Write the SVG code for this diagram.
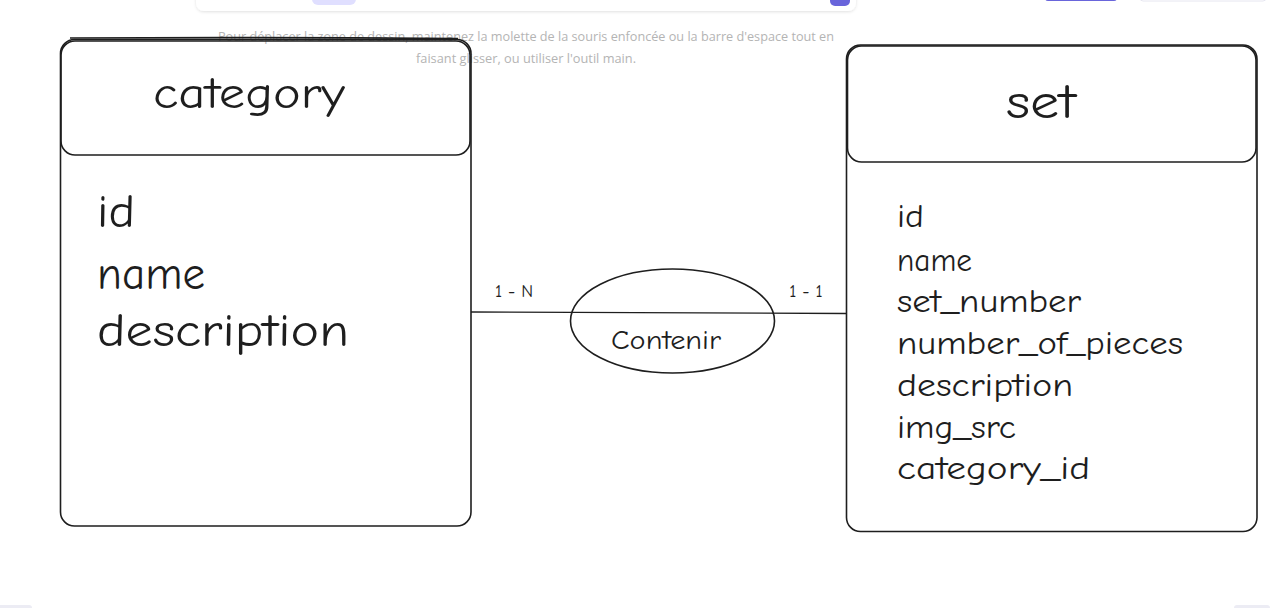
<svg xmlns="http://www.w3.org/2000/svg" width="1276" height="608" viewBox="0 0 1276 608">
<style>
.hint{font-family:"Open Sans","Liberation Sans",sans-serif;font-size:13px;fill:#b4b4b4}
.box{fill:none;stroke:#1e1e1e;stroke-width:1.6}
.hand{font-family:"Comic Neue","Liberation Sans",sans-serif;fill:#1e1e1e}
.line{stroke:#1e1e1e;stroke-width:1.4;fill:none}
</style>
<defs>
<filter id="sh" x="-5%" y="-50%" width="110%" height="200%"><feDropShadow dx="0" dy="1" stdDeviation="1.5" flood-color="#000" flood-opacity="0.12"/></filter>
</defs>
<rect width="1276" height="608" fill="#ffffff"/>
<!-- UI remnants -->
<rect x="196" y="-20" width="660" height="31" rx="8" fill="#ffffff" filter="url(#sh)"/>
<rect x="312" y="-10" width="44" height="15" rx="6" fill="#e0dfff"/>
<rect x="830" y="-10" width="20" height="16" rx="5" fill="#6965db"/>
<rect x="1045" y="-10" width="72" height="11" rx="3" fill="#6965db"/>
<rect x="1140" y="-10" width="126" height="11" rx="3" fill="#ffffff" stroke="#e6e6f0"/>
<rect x="-4" y="605" width="36" height="8" rx="3" fill="#ececf4"/>
<rect x="1234" y="605" width="36" height="8" rx="3" fill="#ececf4"/>
<text class="hint" x="218" y="41" textLength="616" lengthAdjust="spacingAndGlyphs">Pour déplacer la zone de dessin, maintenez la molette de la souris enfoncée ou la barre d'espace tout en</text>
<text class="hint" x="416" y="63" textLength="220" lengthAdjust="spacingAndGlyphs">faisant glisser, ou utiliser l'outil main.</text>

<g id="connectors">
<path class="line" d="M471 312 L846 313.5"/>
<text class="hand" x="514" y="297" font-size="18" text-anchor="middle">1 - N</text>
<text class="hand" x="806" y="297" font-size="18" text-anchor="middle">1 - 1</text>
</g>

<g id="category">
<rect class="box" x="60.5" y="39.5" width="410.5" height="486.5" rx="14"/>
<path class="box" d="M70 38 Q260 37 458 38.5" stroke-width="1.1"/>
<rect class="box" x="61" y="41" width="409" height="114" rx="14"/>
<text class="hand" x="249" y="108" font-size="44" text-anchor="middle" textLength="192" lengthAdjust="spacingAndGlyphs">category</text>
<text class="hand" x="97" y="227" font-size="46" textLength="38" lengthAdjust="spacingAndGlyphs">id</text>
<text class="hand" x="97" y="289" font-size="46" textLength="108" lengthAdjust="spacingAndGlyphs">name</text>
<text class="hand" x="97" y="346" font-size="46" textLength="252" lengthAdjust="spacingAndGlyphs">description</text>
</g>

<g id="contenir">
<ellipse class="box" cx="672.5" cy="321" rx="102" ry="52"/>
<text class="hand" x="666" y="349" font-size="26" text-anchor="middle" textLength="110" lengthAdjust="spacingAndGlyphs">Contenir</text>
</g>

<g id="set">
<rect class="box" x="846.5" y="45" width="410.5" height="486.5" rx="14"/>
<rect class="box" x="847.5" y="46" width="408.5" height="116" rx="14"/>
<text class="hand" x="1041" y="118" font-size="48" text-anchor="middle" textLength="70" lengthAdjust="spacingAndGlyphs">set</text>
<text class="hand" x="897" y="227" font-size="32" textLength="27" lengthAdjust="spacingAndGlyphs">id</text>
<text class="hand" x="897" y="271" font-size="32" textLength="75" lengthAdjust="spacingAndGlyphs">name</text>
<text class="hand" x="897" y="312" font-size="32" textLength="184" lengthAdjust="spacingAndGlyphs">set_number</text>
<text class="hand" x="897" y="354" font-size="32" textLength="286" lengthAdjust="spacingAndGlyphs">number_of_pieces</text>
<text class="hand" x="897" y="396" font-size="32" textLength="176" lengthAdjust="spacingAndGlyphs">description</text>
<text class="hand" x="897" y="438" font-size="32" textLength="119" lengthAdjust="spacingAndGlyphs">img_src</text>
<text class="hand" x="897" y="479" font-size="32" textLength="193" lengthAdjust="spacingAndGlyphs">category_id</text>
</g>
</svg>
